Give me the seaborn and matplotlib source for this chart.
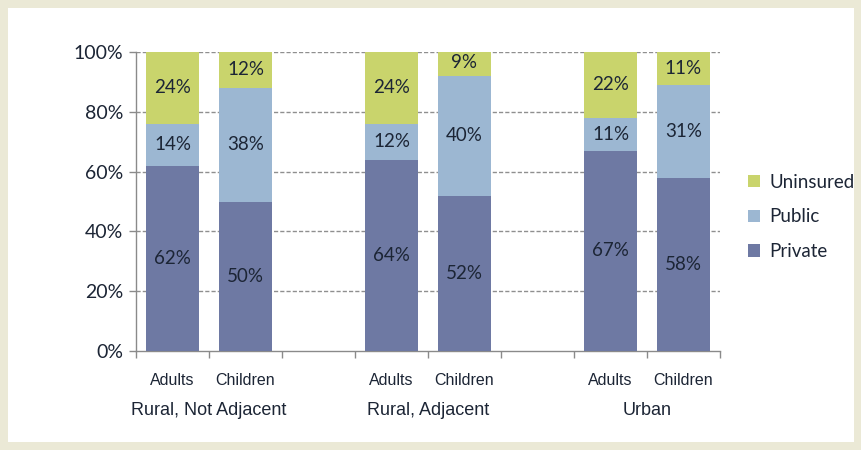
import matplotlib
matplotlib.use("Agg")
import matplotlib.pyplot as plt
import seaborn as sns
import pandas as pd
import numpy as np
from matplotlib.patches import Rectangle, Patch

sns.set_theme(style="white")
plt.rcParams['font.family'] = ['Lato', 'DejaVu Sans']

# ---- data ----
groups = ["Rural, Not Adjacent", "Rural, Adjacent", "Urban"]
populations = ["Adults", "Children"]
private = [62, 50, 64, 52, 67, 58]
public = [14, 38, 12, 40, 11, 31]
uninsured = [24, 12, 24, 9, 22, 11]
series_names = ["Uninsured", "Public", "Private"]
ytick_labels = ["0%", "20%", "40%", "60%", "80%", "100%"]

colors = {"Private": "#6e79a3", "Public": "#9cb7d2", "Uninsured": "#c9d46c"}
text_color = "#1c2535"

# slot layout: two bars per group, then an empty slot
slots = []
for gi, g in enumerate(groups):
    for p in populations:
        slots.append(f"{g}|{p}")
    if gi < len(groups) - 1:
        slots.append(f"gap{gi}")

rows = []
i = 0
for g in groups:
    for p in populations:
        rows.append({"slot": f"{g}|{p}", "group": g, "pop": p,
                     "Private": private[i], "Public": public[i], "Uninsured": uninsured[i]})
        i += 1
df = pd.DataFrame(rows)
df["top_public"] = df["Private"] + df["Public"]
df["top_uninsured"] = df["top_public"] + df["Uninsured"]

fig = plt.figure(figsize=(8.62, 4.5), dpi=100)
fig.patch.set_facecolor("#ebe9d6")
# white inner panel
fig.patches.append(Rectangle((8 / 862, 8 / 450), 1 - 16 / 862, 1 - 16 / 450,
                             transform=fig.transFigure, facecolor="white",
                             edgecolor="none", zorder=-10))
ax = fig.add_axes([136 / 862, 1 - 351 / 450, (720 - 136) / 862, (351 - 52) / 450])
ax.set_facecolor("none")

bw = 0.72
for col, name, z in [("top_uninsured", "Uninsured", 2), ("top_public", "Public", 3),
                     ("Private", "Private", 4)]:
    sns.barplot(data=df, x="slot", y=col, order=slots, color=colors[name],
                width=bw, saturation=1, ax=ax, zorder=z, linewidth=0, edgecolor="none")

# value labels
vfs = 13.5
for _, r in df.iterrows():
    x = slots.index(r["slot"])
    ax.text(x, r["Private"] / 2, f"{r['Private']}%", ha="center", va="center",
            fontsize=vfs, color=text_color, zorder=6)
    ax.text(x, r["Private"] + r["Public"] / 2, f"{r['Public']}%", ha="center", va="center",
            fontsize=vfs, color=text_color, zorder=6)
    ax.text(x, r["top_public"] + r["Uninsured"] / 2, f"{r['Uninsured']}%", ha="center",
            va="center", fontsize=vfs, color=text_color, zorder=6)

ax.set_ylim(0, 100)
ax.set_xlim(-0.5, len(slots) - 0.5)
ax.set_yticks([0, 20, 40, 60, 80, 100])
ax.set_yticklabels(ytick_labels, fontsize=14, color=text_color)
for y in [20, 40, 60, 80, 100]:
    ax.axhline(y, color="#8f8f8f", lw=1.0, ls=(0, (3, 1.5)), zorder=1)

# x ticks at slot boundaries
ax.set_xticks(np.arange(-0.5, len(slots) + 0.5, 1.0))
ax.set_xticklabels([])
ax.tick_params(axis="x", length=5, color="#8a8a8a", width=1, direction="out", bottom=True)
ax.tick_params(axis="y", length=5, color="#8a8a8a", width=1, direction="out", left=True, pad=4)
ax.set_xlabel("")
ax.set_ylabel("")

for s in ["top", "right"]:
    ax.spines[s].set_visible(False)
for s in ["left", "bottom"]:
    ax.spines[s].set_color("#8a8a8a")
    ax.spines[s].set_linewidth(1)

# category and group labels
for gi, g in enumerate(groups):
    xs = []
    for p in populations:
        x = slots.index(f"{g}|{p}")
        xs.append(x)
        ax.text(x, -9.7, p, ha="center", va="center", fontsize=11.5,
                family=["Liberation Sans", "DejaVu Sans"], color=text_color)
    ax.text(np.mean(xs), -20.0, g, ha="center", va="center", fontsize=13,
            family=["Liberation Sans", "DejaVu Sans"], color=text_color)

handles = [Patch(facecolor=colors[n], edgecolor="none", label=n) for n in series_names]
fig.legend(handles=handles, loc="center left", bbox_to_anchor=(731 / 862, 1 - 217 / 450),
           frameon=False, fontsize=13.5, handlelength=0.65, handleheight=0.65,
           handletextpad=0.5, labelspacing=0.95, labelcolor=text_color)

fig.savefig("out.png", dpi=100, facecolor=fig.get_facecolor())
